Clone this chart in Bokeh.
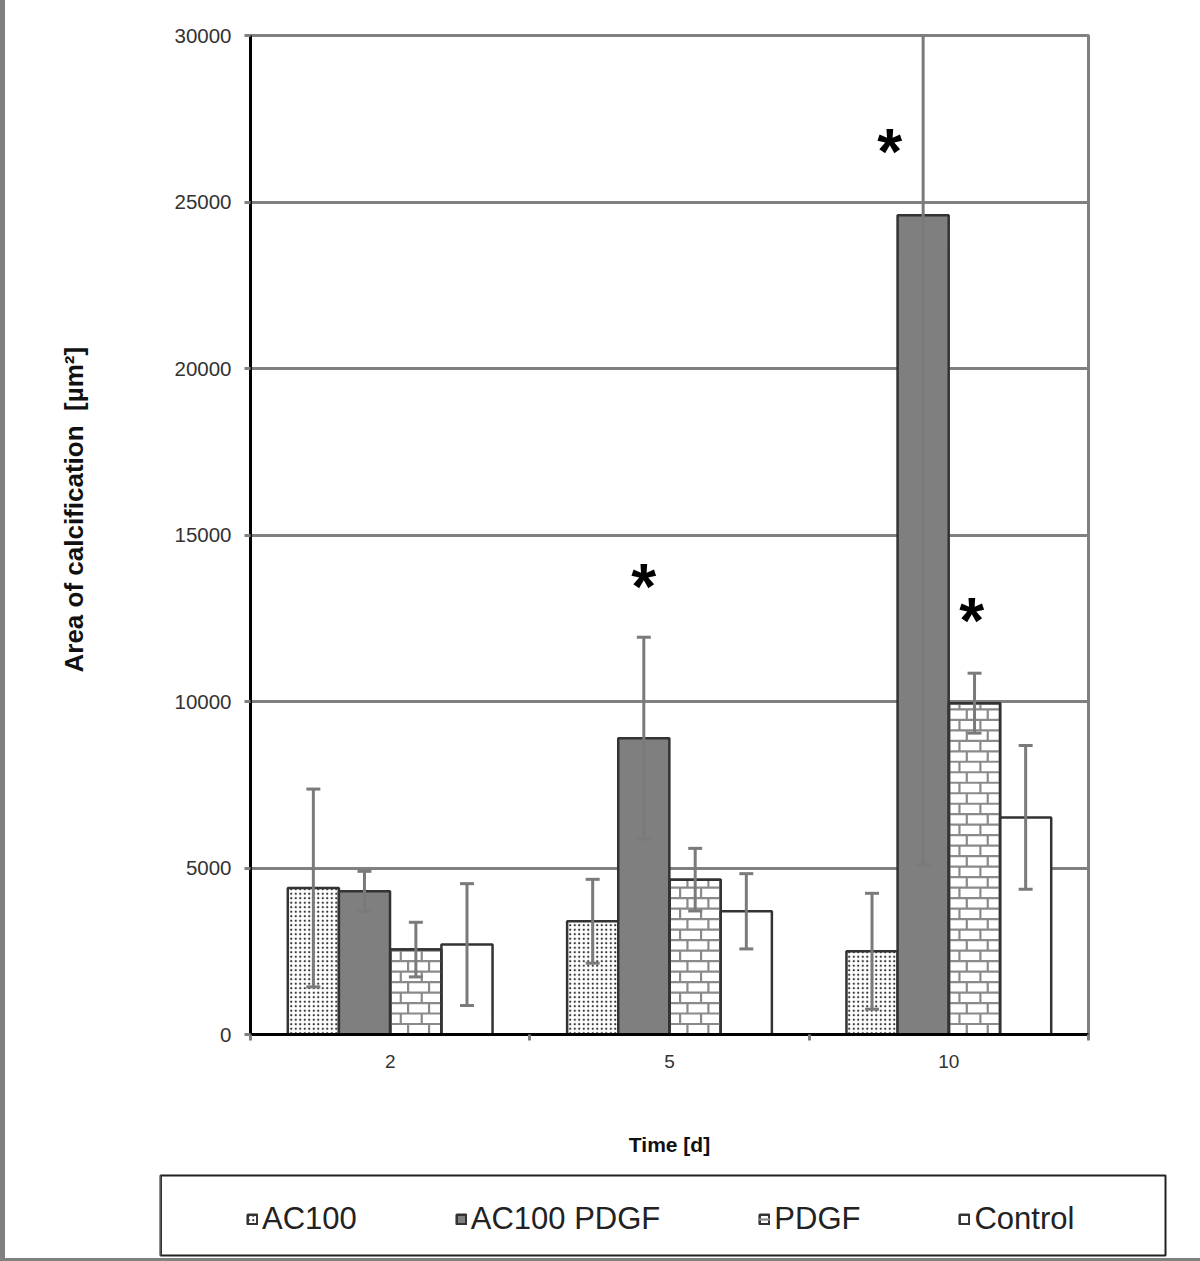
from bokeh.plotting import figure
from bokeh.layouts import column
from bokeh.models import (ColumnDataSource, Range1d, FixedTicker, Legend, LegendItem)
from bokeh.core.properties import value
from bokeh.embed import file_html
from bokeh.resources import INLINE

# ---------------- data ----------------
days = ["2", "5", "10"]
series = ["AC100", "AC100 PDGF", "PDGF", "Control"]

mean_ac100 = [4400, 3400, 2500]
mean_ac100_pdgf = [4300, 8900, 24600]
mean_pdgf = [2550, 4650, 9950]
mean_control = [2700, 3700, 6520]

err_ac100 = [2970, 1260, 1740]
err_ac100_pdgf = [600, 3030, 19500]
err_pdgf = [820, 940, 900]
err_control = [1830, 1130, 2160]

y_ticks = [0, 5000, 10000, 15000, 20000, 25000, 30000]

# significance markers
star_day = ["5", "10", "10"]
star_series = ["AC100 PDGF", "AC100 PDGF", "PDGF"]
star_y = [13450, 26490, 12430]
star_shift = [0.0, -0.12, -0.01]

means = dict(zip(series, [mean_ac100, mean_ac100_pdgf, mean_pdgf, mean_control]))
errs = dict(zip(series, [err_ac100, err_ac100_pdgf, err_pdgf, err_control]))

FONT = "Liberation Sans"
NB = "\u00a0"

p = figure(width=1195, height=1171, output_backend="svg", toolbar_location=None,
           x_range=Range1d(0, 3), y_range=Range1d(0, 30000),
           min_border_left=245, min_border_right=112, min_border_top=35,
           min_border_bottom=137)
p.background_fill_color = "white"
p.border_fill_color = "white"
p.outline_line_color = "#808080"
p.outline_line_width = 3

# axes
p.yaxis.ticker = FixedTicker(ticks=y_ticks)
p.yaxis.major_label_text_font = FONT
p.yaxis.major_label_text_font_size = "20.5px"
p.yaxis.major_label_text_color = "#333333"
p.yaxis.major_label_standoff = 13
p.yaxis.major_tick_out = 6
p.yaxis.major_tick_in = 0
p.yaxis.major_tick_line_color = "#808080"
p.yaxis.major_tick_line_width = 3
p.yaxis.minor_tick_line_color = None
p.yaxis.axis_line_color = "black"
p.yaxis.axis_line_width = 3
p.yaxis.axis_label = NB * 7 + "Area of calcification" + NB * 2 + "[µm²]"
p.yaxis.axis_label_text_font = FONT
p.yaxis.axis_label_text_font_style = "bold"
p.yaxis.axis_label_text_font_size = "26px"
p.yaxis.axis_label_text_color = "#111111"
p.yaxis.axis_label_standoff = 82

centers = [i + 0.5 for i in range(len(days))]
bounds = [float(i) for i in range(len(days) + 1)]
p.xaxis.ticker = FixedTicker(ticks=centers, minor_ticks=bounds)
p.xaxis.major_label_overrides = {c: d for c, d in zip(centers, days)}
p.xaxis.major_label_text_font = FONT
p.xaxis.major_label_text_font_size = "19px"
p.xaxis.major_label_text_color = "#333333"
p.xaxis.major_label_standoff = 14
p.xaxis.major_tick_out = 0
p.xaxis.major_tick_in = 0
p.xaxis.minor_tick_out = 6
p.xaxis.minor_tick_in = 0
p.xaxis.minor_tick_line_color = "#808080"
p.xaxis.minor_tick_line_width = 3
p.xaxis.axis_line_color = "black"
p.xaxis.axis_line_width = 3
p.xaxis.axis_label = "Time [d]"
p.xaxis.axis_label_text_font = FONT
p.xaxis.axis_label_text_font_style = "bold"
p.xaxis.axis_label_text_font_size = "21px"
p.xaxis.axis_label_text_color = "#111111"
p.xaxis.axis_label_standoff = 62

p.xgrid.visible = False
p.ygrid.grid_line_color = "#808080"
p.ygrid.grid_line_width = 3

outline = dict(line_color="#333333", line_width=2.5)
styles = {
    "AC100": dict(fill_color="white", hatch_pattern="dot", hatch_color="#333333",
                  hatch_scale=4.5, hatch_weight=2, **outline),
    "AC100 PDGF": dict(fill_color="#7f7f7f", **outline),
    "PDGF": dict(fill_color="white", **outline),
    "Control": dict(fill_color="white", **outline),
}
brick_style = dict(line_color="#8a8a8a", line_width=2.2)

offsets = [-0.275, -0.092, 0.092, 0.275]
bar_w = 0.183
cap = 0.025

sources = {}
for k, s in enumerate(series):
    xs = [c + offsets[k] for c in centers]
    m = means[s]
    e = errs[s]
    src = ColumnDataSource(dict(
        x=xs, top=m,
        upper=[a + b for a, b in zip(m, e)],
        lower=[a - b for a, b in zip(m, e)],
        cl=[x - cap for x in xs], cr=[x + cap for x in xs]))
    sources[s] = src
    p.vbar(x="x", top="top", bottom=0, width=bar_w, source=src, **styles[s])

# brick texture for the PDGF bars, derived from the bar geometry
row_h = 315.0
brick_w = 0.075
bx0, by0, bx1, by1 = [], [], [], []
src_p = sources["PDGF"].data
for xc, top in zip(src_p["x"], src_p["top"]):
    left, right = xc - bar_w / 2, xc + bar_w / 2
    k = 0
    while k * row_h < top:
        y_lo = k * row_h
        y_hi = min((k + 1) * row_h, top)
        if k > 0:
            bx0.append(left); bx1.append(right); by0.append(y_lo); by1.append(y_lo)
        xv = left + (brick_w / 2 if k % 2 else brick_w * 0.85)
        while xv < right - 0.004:
            bx0.append(xv); bx1.append(xv); by0.append(y_lo); by1.append(y_hi)
            xv += brick_w
        k += 1
p.segment(x0=bx0, y0=by0, x1=bx1, y1=by1, **brick_style)
p.vbar(x="x", top="top", bottom=0, width=bar_w, source=sources["PDGF"],
       fill_color=None, **outline)

for s in series:
    src = sources[s]
    kw = dict(source=src, line_color="#7a7a7a", line_width=3)
    p.segment(x0="x", y0="lower", x1="x", y1="upper", **kw)
    p.segment(x0="cl", y0="upper", x1="cr", y1="upper", **kw)
    p.segment(x0="cl", y0="lower", x1="cr", y1="lower", **kw)

star_x = [centers[days.index(d)] + offsets[series.index(s)] + sh
          for d, s, sh in zip(star_day, star_series, star_shift)]
p.text(x=star_x, y=star_y, text=["*"] * len(star_x), text_font=value(FONT),
       text_font_style="bold", text_font_size="64px", text_color="black",
       text_align="center", text_baseline="middle")

# ---------------- legend strip ----------------
pl = figure(width=1195, height=87, output_backend="svg", toolbar_location=None,
            x_axis_type=None, y_axis_type=None,
            x_range=Range1d(0, 1), y_range=Range1d(0, 1),
            min_border_left=155, min_border_right=35, min_border_top=4,
            min_border_bottom=3)
pl.background_fill_color = "white"
pl.border_fill_color = "white"
pl.outline_line_color = "#222222"
pl.outline_line_width = 2

for fig in (p, pl):
    try:
        fig.frame_align = False
    except Exception:
        pass

items = []
for s in series:
    rs = [pl.vbar(x=[-5], top=[1], width=0.1, **styles[s])]
    if s == "PDGF":
        rs.append(pl.segment(x0=[-5], y0=[0], x1=[-4], y1=[0], **brick_style))
    items.append(LegendItem(label=s, renderers=rs))

legend = Legend(items=items, orientation="horizontal", location=(86, 18),
                label_text_font=FONT, label_text_font_size="31px",
                label_text_color="#222222",
                glyph_width=12, glyph_height=12, label_standoff=4,
                spacing=98, padding=15, margin=0,
                border_line_color=None, background_fill_alpha=0)
pl.add_layout(legend)

layout = column(p, pl, spacing=0,
                styles={"border-left": "5px solid #808080",
                        "border-bottom": "3px solid #808080"})
open("out.html", "w").write(file_html(layout, INLINE))
